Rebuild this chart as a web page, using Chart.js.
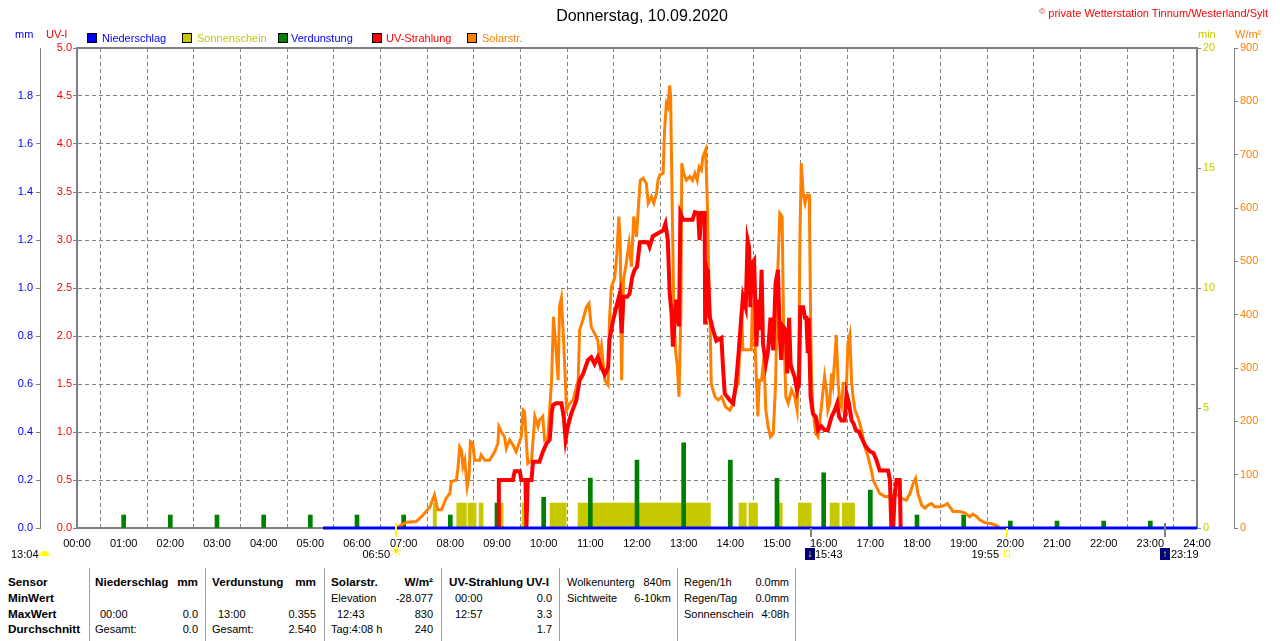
<!DOCTYPE html>
<html>
<head>
<meta charset="utf-8">
<script src="https://cdn.jsdelivr.net/npm/chart.js@4.4.1/dist/chart.umd.min.js"></script>
<style>
  html, body { margin: 0; padding: 0; background: #fff; }
  body { width: 1280px; height: 641px; position: relative; overflow: hidden; font-family: "Liberation Sans", Arial, sans-serif; }
  #wrap { position: absolute; left: 0; top: 0; width: 1280px; height: 560px; }
  .t { position: absolute; white-space: nowrap; font-size: 11px; line-height: 14px; color: #000; }
  .b { font-weight: bold; font-size: 11.7px; }
  .sep { position: absolute; top: 568px; width: 1px; height: 73px; background: #a0a0a0; }
  .sq { position: absolute; top: 33px; width: 8px; height: 8px; border: 1px solid #000; }
  .moon { position: absolute; top: 548px; width: 10px; height: 12px; background: #000080; color: #ffff00; font-size: 10px; line-height: 12px; text-align: center; }
</style>
</head>
<body>
<div id="wrap"><canvas id="grafico"></canvas></div>

<!-- Titel -->
<div class="t" style="left:0;width:1284px;text-align:center;top:6px;font-size:16px;line-height:20px;">Donnerstag, 10.09.2020</div>
<div class="t" style="right:12px;top:5px;color:#ff0000;"><span style="font-size:8px;vertical-align:3px;">©</span> private Wetterstation Tinnum/Westerland/Sylt</div>

<!-- Achsentitel -->
<div class="t" style="left:15px;top:27px;color:#0000ff;">mm</div>
<div class="t" style="left:46px;top:27px;color:#ff0000;">UV-I</div>
<div class="t" style="left:1198px;top:27px;color:#c8c800;">min</div>
<div class="t" style="left:1235px;top:27px;color:#ff8000;">W/m²</div>

<!-- Legende -->
<div class="sq" style="left:87px;background:#0000ff;"></div>
<div class="t" style="left:102px;top:31px;color:#0000ff;">Niederschlag</div>
<div class="sq" style="left:182px;background:#c8c800;"></div>
<div class="t" style="left:197px;top:31px;color:#c8c800;">Sonnenschein</div>
<div class="sq" style="left:278px;background:#008000;"></div>
<div class="t" style="left:291px;top:31px;color:#0000ff;">Verdunstung</div>
<div class="sq" style="left:372px;background:#ff0000;"></div>
<div class="t" style="left:386px;top:31px;color:#ff0000;">UV-Strahlung</div>
<div class="sq" style="left:467px;background:#ff8000;"></div>
<div class="t" style="left:482px;top:31px;color:#ff8000;">Solarstr.</div>

<!-- Sonne / Mond -->
<div class="t" style="left:11px;top:547px;">13:04</div>
<div style="position:absolute;left:40px;top:551px;width:9px;height:5px;background:#ffff00;border-radius:5px 5px 0 0;"></div>
<div class="t" style="right:890px;top:547px;">06:50</div>
<div class="t" style="left:390px;top:544px;color:#ffe000;font-size:14px;">☀</div>
<div class="moon" style="left:805px;">↓</div>
<div class="t" style="left:815px;top:547px;">15:43</div>
<div class="t" style="right:281px;top:547px;">19:55</div>
<div style="position:absolute;left:1004px;top:550px;width:4px;height:5px;border:1px solid #ffff00;"></div>
<div class="moon" style="left:1160px;">↑</div>
<div class="t" style="left:1171px;top:547px;">23:19</div>

<!-- Tabelle -->
<div class="sep" style="left:89px;"></div>
<div class="sep" style="left:205px;"></div>
<div class="sep" style="left:324px;"></div>
<div class="sep" style="left:441px;"></div>
<div class="sep" style="left:559px;"></div>
<div class="sep" style="left:677px;"></div>
<div class="sep" style="left:795px;"></div>

<div class="t b" style="left:8px;top:575px;">Sensor</div>
<div class="t b" style="left:8px;top:591px;">MinWert</div>
<div class="t b" style="left:8px;top:607px;">MaxWert</div>
<div class="t b" style="left:8px;top:622px;">Durchschnitt</div>

<div class="t b" style="left:95px;top:575px;">Niederschlag</div>
<div class="t b" style="right:1082px;top:575px;">mm</div>
<div class="t" style="left:100px;top:607px;">00:00</div>
<div class="t" style="right:1082px;top:607px;">0.0</div>
<div class="t" style="left:95px;top:622px;">Gesamt:</div>
<div class="t" style="right:1082px;top:622px;">0.0</div>

<div class="t b" style="left:212px;top:575px;">Verdunstung</div>
<div class="t b" style="right:964px;top:575px;">mm</div>
<div class="t" style="left:218px;top:607px;">13:00</div>
<div class="t" style="right:964px;top:607px;">0.355</div>
<div class="t" style="left:212px;top:622px;">Gesamt:</div>
<div class="t" style="right:964px;top:622px;">2.540</div>

<div class="t b" style="left:331px;top:575px;">Solarstr.</div>
<div class="t b" style="right:847px;top:575px;">W/m²</div>
<div class="t" style="left:331px;top:591px;">Elevation</div>
<div class="t" style="right:847px;top:591px;">-28.077</div>
<div class="t" style="left:337px;top:607px;">12:43</div>
<div class="t" style="right:847px;top:607px;">830</div>
<div class="t" style="left:331px;top:622px;">Tag:4:08 h</div>
<div class="t" style="right:847px;top:622px;">240</div>

<div class="t b" style="left:449px;top:575px;">UV-Strahlung UV-I</div>
<div class="t" style="left:455px;top:591px;">00:00</div>
<div class="t" style="right:728px;top:591px;">0.0</div>
<div class="t" style="left:455px;top:607px;">12:57</div>
<div class="t" style="right:728px;top:607px;">3.3</div>
<div class="t" style="right:728px;top:622px;">1.7</div>

<div class="t" style="left:567px;top:575px;">Wolkenunterg</div>
<div class="t" style="right:609px;top:575px;">840m</div>
<div class="t" style="left:567px;top:591px;">Sichtweite</div>
<div class="t" style="right:609px;top:591px;">6-10km</div>

<div class="t" style="left:684px;top:575px;">Regen/1h</div>
<div class="t" style="right:491px;top:575px;">0.0mm</div>
<div class="t" style="left:684px;top:591px;">Regen/Tag</div>
<div class="t" style="right:491px;top:591px;">0.0mm</div>
<div class="t" style="left:684px;top:607px;">Sonnenschein</div>
<div class="t" style="right:491px;top:607px;">4:08h</div>

<script>
// Niederschlag (mm), Linie am Boden
const rainTime = [5.27, 24];
const rainValue = [0, 0];

// Verdunstung (mm) je Stunde
const evapHour = [1, 2, 3, 4, 5, 6, 7, 8, 9, 10, 11, 12, 13, 14, 15, 16, 17, 18, 19, 20, 21, 22, 23];
const evapValue = [0.054, 0.054, 0.054, 0.054, 0.054, 0.054, 0.054, 0.054, 0.104, 0.128, 0.208, 0.283, 0.355,
  0.283, 0.207, 0.23, 0.158, 0.054, 0.054, 0.029, 0.029, 0.029, 0.029];

// Sonnenschein (min), Blöcke
const sunStart = [7.62, 8.13, 8.37, 8.61, 9.01, 9.53, 10.13, 10.73, 14.18, 14.39, 15.0, 15.45, 16.13, 16.39];
const sunEnd = [7.71, 8.35, 8.56, 8.71, 9.14, 9.64, 10.49, 13.58, 14.35, 14.59, 15.12, 15.74, 16.34, 16.67];
const sunMinutes = [1.05, 1.05, 1.05, 1.05, 1.05, 1.05, 1.05, 1.05, 1.05, 1.05, 1.05, 1.05, 1.05, 1.05];

// UV-Strahlung (UV-I)
const uvTime = [9.04, 9.04, 9.34, 9.38, 9.49, 9.52, 9.61, 9.63, 9.66, 9.74, 9.77, 9.91, 9.98, 10.06, 10.13, 10.17,
  10.20, 10.27, 10.38, 10.43, 10.47, 10.52, 10.59, 10.70, 10.77, 10.84, 10.95, 11.02, 11.09, 11.16, 11.24, 11.31,
  11.38, 11.41, 11.49, 11.56, 11.63, 11.67, 11.71, 11.79, 11.84, 11.90, 11.95, 12.00, 12.06, 12.13, 12.24, 12.27,
  12.34, 12.45, 12.56, 12.61, 12.66, 12.70, 12.74, 12.77, 12.81, 12.84, 12.90, 12.93, 12.99, 13.19, 13.24, 13.31,
  13.34, 13.38, 13.45, 13.46, 13.50, 13.52, 13.56, 13.63, 13.70, 13.81, 13.84, 13.88, 13.99, 14.06, 14.12, 14.17,
  14.22, 14.27, 14.33, 14.37, 14.40, 14.43, 14.47, 14.51, 14.56, 14.59, 14.63, 14.67, 14.70, 14.76, 14.81, 14.86,
  14.92, 14.97, 15.02, 15.06, 15.09, 15.13, 15.19, 15.22, 15.26, 15.29, 15.33, 15.38, 15.43, 15.47, 15.50, 15.56,
  15.60, 15.63, 15.66, 15.68, 15.72, 15.77, 15.83, 15.88, 15.95, 16.02, 16.09, 16.17, 16.24, 16.29, 16.33, 16.38,
  16.45, 16.49, 16.54, 16.60, 16.64, 16.69, 16.76, 16.83, 16.90, 16.99, 17.07, 17.13, 17.20, 17.38, 17.42, 17.45,
  17.49, 17.52, 17.56, 17.63, 17.65];
const uvValue = [0, 0.5, 0.5, 0.59, 0.59, 0.5, 0.5, 0, 0.5, 0.5, 0.69, 0.69, 0.79, 0.88, 0.92, 1.19,
  1.28, 1.30, 1.30, 1.16, 0.92, 1.06, 1.19, 1.33, 1.54, 1.60, 1.75, 1.78, 1.71, 1.78, 1.67, 1.60,
  1.67, 1.96, 2.17, 2.31, 2.44, 2.03, 2.41, 2.41, 2.44, 2.62, 2.69, 2.72, 2.97, 2.98, 2.97, 2.93,
  3.04, 3.07, 3.10, 3.17, 3.00, 2.45, 2.24, 1.89, 2.17, 2.38, 2.10, 3.28, 3.21, 3.21, 3.29, 3.28,
  3.00, 3.28, 3.28, 2.12, 2.69, 2.65, 2.20, 2.06, 1.95, 1.98, 1.70, 1.40, 1.33, 1.30, 1.50, 1.78,
  2.10, 2.41, 2.30, 3.00, 2.93, 2.30, 2.76, 2.79, 1.89, 2.38, 2.06, 2.69, 1.92, 1.71, 1.85, 2.19,
  1.85, 2.55, 2.69, 1.99, 1.75, 2.10, 2.06, 1.61, 2.19, 1.71, 1.64, 1.57, 1.43, 1.50, 2.30, 2.30,
  2.19, 2.19, 1.82, 2.19, 1.37, 1.19, 1.16, 1.02, 1.06, 1.02, 1.02, 1.16, 1.23, 1.30, 1.16, 1.12,
  1.12, 1.40, 1.30, 1.12, 1.09, 1.02, 1.00, 0.92, 0.85, 0.80, 0.78, 0.71, 0.60, 0.60, 0.50, 0,
  0, 0.33, 0.50, 0.50, 0];

// Solarstrahlung (W/m²)
const solarTime = [6.84, 7.06, 7.27, 7.41, 7.56, 7.66, 7.73, 7.81, 7.91, 7.99, 8.02, 8.13, 8.16, 8.20, 8.24, 8.27,
  8.31, 8.36, 8.40, 8.43, 8.48, 8.52, 8.63, 8.66, 8.74, 8.84, 8.95, 9.02, 9.04, 9.09, 9.16, 9.20,
  9.27, 9.34, 9.41, 9.52, 9.56, 9.59, 9.63, 9.66, 9.74, 9.81, 9.88, 9.91, 9.98, 10.02, 10.09, 10.17,
  10.21, 10.26, 10.31, 10.34, 10.38, 10.43, 10.49, 10.56, 10.63, 10.74, 10.77, 10.84, 10.92, 10.97, 11.02, 11.09,
  11.16, 11.20, 11.24, 11.31, 11.38, 11.41, 11.45, 11.52, 11.57, 11.61, 11.64, 11.67, 11.71, 11.77, 11.83, 11.88,
  11.93, 11.99, 12.03, 12.07, 12.13, 12.20, 12.24, 12.31, 12.36, 12.42, 12.45, 12.49, 12.56, 12.59, 12.63, 12.66,
  12.70, 12.72, 12.76, 12.79, 12.83, 12.86, 12.90, 12.94, 12.96, 13.00, 13.06, 13.13, 13.19, 13.24, 13.29, 13.33,
  13.38, 13.41, 13.47, 13.51, 13.54, 13.57, 13.59, 13.67, 13.74, 13.81, 13.90, 13.99, 14.06, 14.13, 14.17, 14.24,
  14.27, 14.35, 14.45, 14.47, 14.52, 14.56, 14.59, 14.62, 14.67, 14.72, 14.76, 14.81, 14.86, 14.92, 14.97, 15.02,
  15.06, 15.11, 15.14, 15.19, 15.24, 15.31, 15.38, 15.43, 15.47, 15.49, 15.52, 15.56, 15.60, 15.64, 15.69, 15.70,
  15.72, 15.74, 15.77, 15.83, 15.88, 15.95, 16.02, 16.06, 16.09, 16.13, 16.17, 16.20, 16.24, 16.27, 16.31, 16.35,
  16.38, 16.42, 16.49, 16.52, 16.56, 16.60, 16.63, 16.67, 16.74, 16.81, 16.88, 16.95, 17.02, 17.06, 17.13, 17.20,
  17.31, 17.42, 17.52, 17.60, 17.67, 17.77, 17.85, 17.92, 17.97, 18.02, 18.10, 18.17, 18.24, 18.31, 18.38, 18.49,
  18.60, 18.65, 18.70, 18.77, 18.92, 19.03, 19.13, 19.20, 19.28, 19.35, 19.45, 19.60, 19.70, 19.76];
const solarValue = [0, 11, 12, 24, 39, 62, 34, 34, 56, 65, 87, 90, 109, 152, 146, 115,
  127, 77, 96, 162, 159, 127, 127, 137, 127, 127, 143, 159, 190, 181, 171, 149,
  165, 156, 143, 171, 221, 218, 159, 121, 127, 209, 190, 202, 209, 165, 171, 277,
  396, 340, 277, 415, 431, 346, 221, 234, 240, 277, 371, 390, 415, 421, 377, 365,
  352, 315, 340, 277, 268, 390, 452, 468, 515, 584, 540, 277, 465, 496, 534, 490,
  584, 546, 602, 652, 656, 646, 609, 621, 609, 628, 652, 662, 665, 746, 796, 790,
  830, 809, 571, 403, 328, 309, 246, 403, 684, 665, 652, 659, 652, 665, 652, 677,
  671, 696, 709, 602, 465, 371, 271, 246, 240, 246, 227, 221, 234, 265, 271, 409,
  334, 334, 334, 421, 371, 277, 209, 277, 277, 321, 221, 190, 171, 177, 271, 490,
  590, 584, 384, 246, 234, 259, 246, 221, 334, 534, 684, 628, 609, 624, 624, 559,
  396, 284, 221, 177, 171, 227, 284, 259, 221, 234, 290, 271, 321, 362, 271, 234,
  227, 271, 271, 346, 362, 271, 246, 221, 206, 184, 152, 134, 109, 90, 77, 65,
  59, 59, 62, 62, 56, 52, 65, 84, 93, 65, 43, 37, 43, 46, 40, 40,
  43, 46, 40, 31, 31, 28, 21, 26, 21, 15, 10, 8, 5, 2];

// Sonnenauf-/untergang und Mondauf-/untergang (Stunden)
const sunEventTime = [6.83, 19.92];
const moonEventTime = [15.72, 23.32];

const aPuntos = (xs, ys) => xs.map((x, i) => ({ x: x, y: ys[i] }));

const sunPoints = [];
sunStart.forEach((s, i) => {
  sunPoints.push({ x: s, y: 0 }, { x: s, y: sunMinutes[i] }, { x: sunEnd[i], y: sunMinutes[i] }, { x: sunEnd[i], y: 0 });
});

const GRAU = "#808080";
const STRICH = [4, 3];

// Rahmen und Markierungen unter der Zeitachse
const rahmenPlugin = {
  id: "rahmen",
  beforeDatasetsDraw(chart) {
    const { ctx, chartArea: a } = chart;
    ctx.save();
    ctx.strokeStyle = GRAU;
    ctx.lineWidth = 2;
    ctx.beginPath();
    ctx.moveTo(a.left, a.bottom);
    ctx.lineTo(a.left, a.top);
    ctx.lineTo(a.right, a.top);
    ctx.lineTo(a.right, a.bottom);
    ctx.stroke();
    ctx.restore();
  },
  afterDatasetsDraw(chart) {
    const { ctx, chartArea: a, scales } = chart;
    ctx.save();
    ctx.lineWidth = 2;
    sunEventTime.forEach((t, i) => {
      const x = Math.round(scales.x.getPixelForValue(t));
      ctx.strokeStyle = "#ffff00";
      ctx.beginPath();
      ctx.moveTo(x, a.bottom - (i === 0 ? 5 : 0));
      ctx.lineTo(x, a.bottom + 9);
      ctx.stroke();
    });
    moonEventTime.forEach((t, i) => {
      const x = Math.round(scales.x.getPixelForValue(t));
      ctx.strokeStyle = GRAU;
      ctx.beginPath();
      ctx.moveTo(x, a.bottom - (i === 1 ? 5 : 0));
      ctx.lineTo(x, a.bottom + 9);
      ctx.stroke();
    });
    ctx.restore();
  }
};

Chart.defaults.font.family = '"Liberation Sans", Arial, sans-serif';
Chart.defaults.font.size = 11;

const ctx = document.getElementById("grafico").getContext("2d");

new Chart(ctx, {
  type: "line",
  data: {
    datasets: [
      {
        label: "Niederschlag",
        data: aPuntos(rainTime, rainValue),
        yAxisID: "mm",
        borderColor: "#0000ff",
        borderWidth: 3,
        pointRadius: 0,
        clip: false,
        order: 0
      },
      {
        label: "UV-Strahlung",
        data: aPuntos(uvTime, uvValue),
        yAxisID: "uv",
        borderColor: "#ff0000",
        borderWidth: 4,
        pointRadius: 0,
        tension: 0,
        order: 1
      },
      {
        label: "Solarstr.",
        data: aPuntos(solarTime, solarValue),
        yAxisID: "w",
        borderColor: "#ff8000",
        borderWidth: 3,
        pointRadius: 0,
        tension: 0,
        order: 2
      },
      {
        label: "Verdunstung",
        type: "bar",
        data: aPuntos(evapHour, evapValue),
        yAxisID: "mm",
        backgroundColor: "#008000",
        barThickness: 4,
        order: 3
      },
      {
        label: "Sonnenschein",
        data: sunPoints,
        yAxisID: "min",
        borderColor: "rgba(0,0,0,0)",
        borderWidth: 0,
        backgroundColor: "#c8c800",
        fill: "origin",
        pointRadius: 0,
        order: 4
      }
    ]
  },
  options: {
    responsive: true,
    maintainAspectRatio: false,
    animation: false,
    events: [],
    layout: { padding: { top: 48, left: 0, right: 0, bottom: 0 } },
    plugins: {
      legend: { display: false },
      tooltip: { enabled: false },
      title: { display: false }
    },
    scales: {
      x: {
        type: "linear",
        min: 0,
        max: 24,
        offset: false,
        ticks: {
          stepSize: 1,
          autoSkip: false,
          maxRotation: 0,
          color: "#000",
          padding: 9,
          callback: v => String(v).padStart(2, "0") + ":00"
        },
        grid: { color: GRAU, lineWidth: 1, drawTicks: false },
        border: { display: true, color: GRAU, width: 2, dash: STRICH },
        afterFit: s => { s.height = 32; }
      },
      uv: {
        type: "linear",
        position: "left",
        weight: 0,
        min: 0,
        max: 5,
        ticks: { stepSize: 0.5, autoSkip: false, color: "#ff0000", padding: 1, callback: v => v.toFixed(1) },
        grid: { color: GRAU, tickColor: GRAU, tickLength: 4 },
        border: { display: true, color: GRAU, width: 2, dash: STRICH },
        afterFit: s => { s.width = 37; }
      },
      mm: {
        type: "linear",
        position: "left",
        weight: 1,
        min: 0,
        max: 2,
        ticks: {
          stepSize: 0.2,
          autoSkip: false,
          color: "#0000ff",
          padding: 3,
          callback: v => (v > 1.95 ? "" : v.toFixed(1))
        },
        grid: {
          drawOnChartArea: false,
          tickLength: 4,
          color: GRAU,
          tickColor: c => (c.tick && c.tick.value > 1.95 ? "rgba(0,0,0,0)" : GRAU)
        },
        border: { display: true, color: GRAU, width: 1 },
        afterFit: s => { s.width = 40; }
      },
      min: {
        type: "linear",
        position: "right",
        weight: 0,
        min: 0,
        max: 20,
        ticks: { stepSize: 5, autoSkip: false, color: "#c8c800", padding: 2 },
        grid: { drawOnChartArea: false, tickLength: 4, color: GRAU },
        border: { display: true, color: GRAU, width: 2 },
        afterFit: s => { s.width = 37; }
      },
      w: {
        type: "linear",
        position: "right",
        weight: 1,
        min: 0,
        max: 900,
        ticks: { stepSize: 100, autoSkip: false, color: "#ff8000", padding: 2 },
        grid: { drawOnChartArea: false, tickLength: 4, color: GRAU },
        border: { display: true, color: GRAU, width: 1 },
        afterFit: s => { s.width = 46; }
      }
    }
  },
  plugins: [rahmenPlugin]
});
</script>
</body>
</html>
